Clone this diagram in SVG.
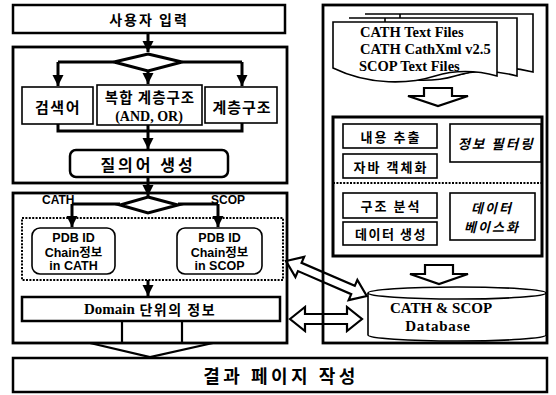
<svg xmlns="http://www.w3.org/2000/svg" width="556" height="395" viewBox="0 0 556 395">
<defs>
<style>
.box{fill:#fff;stroke:#000;stroke-width:2.5}
.big{fill:none;stroke:#000;stroke-width:2.8}
.thin{fill:#fff;stroke:#000;stroke-width:1.6}
.dot{fill:none;stroke:#000;stroke-width:2;stroke-dasharray:2 1.4}
.ln{fill:none;stroke:#000;stroke-width:3}
.hol{fill:none;stroke:#000;stroke-width:2.2;stroke-linejoin:miter}
.ko{font-family:"Noto Sans CJK KR","Noto Sans",sans-serif;font-weight:bold;fill:#000}
.it{font-style:italic}
.sf{font-family:"Liberation Serif","Times New Roman",serif;font-weight:bold;fill:#000}
.sa{font-family:"Liberation Sans",Arial,"Noto Sans CJK KR",sans-serif;font-weight:bold;fill:#000}
text{dominant-baseline:central;text-anchor:middle}
</style>
<marker id="ah" markerUnits="userSpaceOnUse" markerWidth="12" markerHeight="12" refX="11" refY="6" orient="auto">
<path d="M0,0.5 L11,6 L0,11.5 Z" fill="#000"/>
</marker>
</defs>

<!-- panels -->
<rect id="panel1" class="big" x="13" y="47" width="274" height="136"/>
<rect id="panel2" class="big" x="13" y="193" width="274" height="150"/>
<rect id="panelR" class="big" x="323" y="5" width="224" height="338"/>

<g id="n_input">
<rect class="box" x="13" y="5" width="272" height="28"/>
<text class="ko" x="149" y="19" font-size="14" letter-spacing="2">사용자 입력</text>
</g>

<g id="n_keyword">
<rect class="thin" x="22" y="87" width="71" height="37"/>
<text class="ko" x="58" y="106" font-size="15" letter-spacing="1.5">검색어</text>
</g>
<g id="n_complex">
<rect class="thin" x="97" y="85" width="105" height="40"/>
<text class="ko" x="150" y="96" font-size="14.5" letter-spacing="1">복합 계층구조</text>
<text class="sf" x="149" y="116" font-size="14">(AND, OR)</text>
</g>
<g id="n_hier">
<rect class="thin" x="205" y="87" width="72" height="36"/>
<text class="ko" x="242" y="106" font-size="15" letter-spacing="1">계층구조</text>
</g>
<g id="n_query">
<rect class="box" x="70" y="150" width="158" height="27" rx="6"/>
<text class="ko" x="148" y="164" font-size="16" letter-spacing="3">질의어 생성</text>
</g>

<g id="n_dotted">
<rect class="dot" x="22" y="218" width="261" height="62"/>
</g>
<g id="n_pdb_cath">
<rect class="thin" x="32" y="228" width="83" height="46" rx="8"/>
<text class="sa" x="73.5" y="238" font-size="12.5">PDB ID</text>
<text class="sa" x="73.5" y="252.5" font-size="12.5">Chain정보</text>
<text class="sa" x="73.5" y="266" font-size="12.5">in CATH</text>
</g>
<g id="n_pdb_scop">
<rect class="thin" x="177" y="228" width="85" height="46" rx="8"/>
<text class="sa" x="219.5" y="238" font-size="12.5">PDB ID</text>
<text class="sa" x="219.5" y="252.5" font-size="12.5">Chain정보</text>
<text class="sa" x="219.5" y="266" font-size="12.5">in SCOP</text>
</g>
<g id="n_domain">
<rect class="box" x="22" y="297" width="258" height="24"/>
<text x="150" y="309"><tspan class="sf" font-size="15">Domain</tspan><tspan class="ko" font-size="14" letter-spacing="1.5"> 단위의 정보</tspan></text>
</g>

<g id="n_result">
<rect class="box" x="13" y="358" width="534" height="34"/>
<text class="ko" x="281" y="375" font-size="18" letter-spacing="3.5">결과 페이지 작성</text>
</g>

<g id="n_files">
<path class="thin" d="M365,14 H533 V72 C510,66 490,66 470,72 C450,78 420,78 400,70 V14 Z"/>
<path class="thin" d="M349,18 H517 V76 C495,70 475,70 455,76 C435,82 405,82 385,74 V18 Z"/>
<path class="thin" d="M333,22 H497 V76 C475,70 455,70 435,76 C410,84 370,86 333,68 Z"/>
<text class="sf" x="360" y="32" font-size="14.5" style="text-anchor:start">CATH Text Files</text>
<text class="sf" x="360" y="49" font-size="14.5" style="text-anchor:start">CATH CathXml v2.5</text>
<text class="sf" x="359" y="66" font-size="14.5" style="text-anchor:start">SCOP Text Files</text>
</g>

<g id="n_proc">
<rect x="333" y="117" width="209" height="139" fill="none" stroke="#000" stroke-width="3"/>
<line class="dot" x1="333" y1="183" x2="542" y2="183"/>
</g>
<g id="n_extract">
<rect class="thin" x="343" y="124" width="94" height="24"/>
<text class="ko" x="391" y="136" font-size="13" letter-spacing="2">내용 추출</text>
</g>
<g id="n_filter">
<rect class="thin" x="450" y="124" width="91" height="38"/>
<text class="ko it" x="496" y="143" font-size="13.5" letter-spacing="2">정보 필터링</text>
</g>
<g id="n_java">
<rect class="thin" x="343" y="154" width="94" height="24"/>
<text class="ko" x="391" y="166" font-size="13" letter-spacing="2">자바 객체화</text>
</g>
<g id="n_struct">
<rect class="thin" x="343" y="193" width="94" height="25"/>
<text class="ko" x="391" y="205" font-size="13" letter-spacing="2">구조 분석</text>
</g>
<g id="n_datagen">
<rect class="thin" x="343" y="222" width="94" height="23"/>
<text class="ko" x="391" y="233" font-size="13" letter-spacing="1.5">데이터 생성</text>
</g>
<g id="n_dbize">
<rect class="thin" x="450" y="193" width="85" height="47"/>
<text class="ko it" x="492" y="207" font-size="13" letter-spacing="2">데이터</text>
<text class="ko it" x="492" y="226" font-size="13" letter-spacing="2">베이스화</text>
</g>

<g id="n_db">
<path class="thin" d="M368,293 A89,6 0 0 1 546,293 V335 A89,6 0 0 1 368,335 Z"/>
<path class="thin" fill="none" d="M368,293 A89,6 0 0 0 546,293"/>
<text class="sf" x="441" y="308" font-size="15">CATH &amp; SCOP</text>
<text class="sf" x="438" y="326" font-size="15" letter-spacing="0.8">Database</text>
</g>

<g id="connectors">
<path class="ln" d="M148,33 V52" marker-end="url(#ah)"/>
<polygon points="148,54 182,62 148,71 114,62" fill="#fff" stroke="#000" stroke-width="3"/>
<path class="ln" d="M58,62 H114 M182,62 H242"/>
<path class="ln" d="M58,62 V86" marker-end="url(#ah)"/>
<path class="ln" d="M148,71 V84" marker-end="url(#ah)"/>
<path class="ln" d="M242,62 V86" marker-end="url(#ah)"/>
<path class="ln" d="M58,124 V131 H242 V123"/>
<path class="ln" d="M148,125 V149" marker-end="url(#ah)"/>
<path class="ln" d="M148,177 V196" marker-end="url(#ah)"/>
<polygon points="148,197 178,205 148,213 120,205" fill="#fff" stroke="#000" stroke-width="3"/>
<path class="ln" d="M72,204 H120 M178,204 H218"/>
<path class="ln" d="M72,204 V227" marker-end="url(#ah)"/>
<path class="ln" d="M218,204 V227" marker-end="url(#ah)"/>
<path class="ln" d="M148,280 V296" marker-end="url(#ah)"/>
<polygon class="hol" stroke-width="2.6" points="122,321 182,321 182,343 213,343 150,357 90,343 122,343"/>
<polygon class="hol" points="424,88 452,88 452,96 468,96 438,106 408,96 424,96"/>
<polygon class="hol" points="425,265 453,265 453,274 468,274 439,284 410,274 425,274"/>
<polygon class="hol" stroke-width="2.6" points="290,319 305,307 305,314 347,314 347,307 362,319 347,331 347,324 305,324 305,331"/>
<polygon class="hol" stroke-width="2.6" transform="translate(286,261) rotate(23.4)" points="0,0 15,-11 15,-4.5 73,-4.5 73,-11 88,0 73,11 73,4.5 15,4.5 15,11"/>
</g>

<text class="sa" x="42" y="200" font-size="12" style="text-anchor:start">CATH</text>
<text class="sa" x="211" y="200" font-size="12" style="text-anchor:start">SCOP</text>
</svg>
